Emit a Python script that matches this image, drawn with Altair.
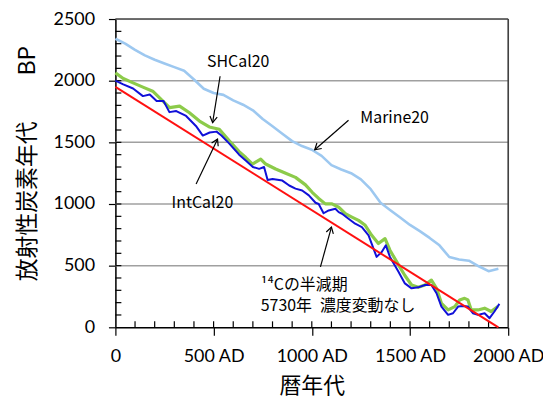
import math
import altair as alt
import pandas as pd

# ---- data ----
marine_year = [0, 50, 100, 150, 200, 250, 300, 350, 400, 450, 500, 550, 600, 650, 700, 750, 800, 850, 900, 950,
               1000, 1050, 1100, 1150, 1200, 1250, 1300, 1350, 1400, 1450, 1500, 1550, 1600, 1650, 1700, 1750,
               1800, 1850, 1900, 1950]
marine_bp = [2340, 2300, 2250, 2205, 2170, 2140, 2110, 2080, 2010, 1935, 1900, 1885, 1840, 1805, 1760, 1690,
             1630, 1570, 1510, 1470, 1440, 1390, 1315, 1280, 1250, 1200, 1120, 1010, 950, 890, 830, 780, 725,
             665, 570, 550, 540, 495, 455, 475]

intcal_year = [0, 40, 90, 140, 175, 210, 245, 275, 310, 360, 410, 445, 480, 515, 540, 580, 630, 665, 700, 732,
               757, 775, 800, 850, 885, 917, 951, 985, 1019, 1035, 1060, 1086, 1120, 1137, 1154, 1187, 1221,
               1255, 1289, 1330, 1356, 1377, 1398, 1440, 1474, 1508, 1542, 1576, 1609, 1635, 1660, 1694, 1719,
               1745, 1770, 1795, 1820, 1846, 1880, 1905, 1930, 1955]
intcal_bp = [2000, 1970, 1937, 1875, 1888, 1835, 1835, 1745, 1754, 1714, 1633, 1555, 1580, 1587, 1555, 1490,
             1400, 1351, 1300, 1285, 1300, 1195, 1203, 1190, 1150, 1125, 1109, 1070, 1010, 1000, 925, 948, 961,
             934, 921, 881, 840, 813, 746, 571, 611, 665, 571, 455, 356, 316, 324, 343, 343, 276, 168, 101, 114,
             168, 173, 168, 114, 101, 114, 74, 128, 190]

shcal_year = [0, 40, 90, 140, 190, 242, 276, 327, 377, 428, 478, 529, 580, 630, 664, 698, 740, 765, 816, 867,
              917, 968, 1002, 1035, 1069, 1103, 1137, 1171, 1204, 1238, 1272, 1305, 1339, 1373, 1398, 1440,
              1474, 1508, 1542, 1576, 1609, 1635, 1660, 1694, 1728, 1753, 1778, 1795, 1812, 1846, 1880, 1913,
              1947]
shcal_bp = [2063, 2018, 1982, 1948, 1915, 1835, 1781, 1794, 1740, 1673, 1625, 1606, 1512, 1425, 1377, 1324,
            1364, 1324, 1284, 1250, 1216, 1155, 1095, 1045, 1001, 1001, 974, 921, 894, 867, 827, 746, 679, 719,
            625, 510, 420, 343, 324, 343, 383, 316, 195, 141, 168, 222, 235, 222, 141, 141, 155, 128, 168]

decay_year = [0, 1950]
decay_bp = [1950, 0]

x_ticks = [0, 500, 1000, 1500, 2000]
y_ticks = [0, 500, 1000, 1500, 2000, 2500]
y_grid = [500, 1000, 1500, 2000]
x_minor = [100, 200, 300, 400, 500, 600, 700, 800, 900, 1000, 1100, 1200, 1300, 1400, 1500, 1600, 1700,
           1800, 1900]
y_minor = [100, 200, 300, 400, 500, 600, 700, 800, 900, 1000, 1100, 1200, 1300, 1400, 1500, 1600, 1700,
           1800, 1900, 2000, 2100, 2200, 2300, 2400]

# annotations (data units)
label_text = ["SHCal20", "IntCal20", "Marine20", "¹⁴Cの半減期", "5730年\u2002濃度変動なし"]
label_x = [625, 443, 1247, 740, 740]
label_y = [2149, 1006, 1700, 343, 173]
label_align = ["center", "center", "left", "left", "left"]

arrow_x0 = [533, 411, 1187, 1044]
arrow_y0 = [2036, 1163, 1679, 490]
arrow_x1 = [495, 520, 1015, 1100]
arrow_y1 = [1660, 1526, 1440, 813]

W, H = 395, 310
XMAX, YMAX = 2000, 2500
sx, sy = W / XMAX, H / YMAX
TICK_PX = 6

xs = alt.Scale(domain=[0, XMAX], nice=False, zero=False)
ys = alt.Scale(domain=[0, YMAX], nice=False, zero=False)

LABEL_FONT = "Lato"
JP_FONT = "Noto Sans CJK JP"

x_axis = alt.Axis(values=x_ticks, title="暦年代",
                  labelExpr="datum.value == 0 ? '0' : datum.value + ' AD'",
                  labelFont=LABEL_FONT, labelFontSize=18, labelColor="#000000",
                  labelPadding=12, tickSize=8, tickColor="#000000", tickWidth=1.2,
                  domainColor="#000000", domainWidth=1.5, grid=False,
                  titleFont=JP_FONT, titleFontSize=22, titleFontWeight="normal", titleColor="#000000",
                  titleBaseline="middle", titleAlign="center", titleX=W / 2, titleY=59,
                  labelFlush=False)
y_axis = alt.Axis(values=y_ticks, title="放射性炭素年代　　BP", format="d",
                  labelFont=LABEL_FONT, labelFontSize=18, labelColor="#000000",
                  labelPadding=14, tickSize=7, tickColor="#000000", tickWidth=1.2,
                  domainColor="#000000", domainWidth=1.5, grid=False,
                  titleFont=JP_FONT, titleFontSize=23, titleFontWeight="normal", titleColor="#000000",
                  titleAngle=270, titleBaseline="middle", titleAlign="center", titleX=-88, titleY=145)


def X(field):
    return alt.X(field, scale=xs, axis=x_axis)


def Y(field):
    return alt.Y(field, scale=ys, axis=y_axis)


def line_layer(xv, yv, color, width):
    return alt.Chart(pd.DataFrame({"year": xv, "bp": yv})).mark_line(
        color=color, strokeWidth=width, strokeJoin="round").encode(x=X("year:Q"), y=Y("bp:Q"))


def segment_layer(df, color, width):
    return alt.Chart(df).mark_rule(color=color, strokeWidth=width).encode(
        x=X("x0:Q"), y=Y("y0:Q"), x2="x1:Q", y2="y1:Q")


# horizontal grid lines
grid_df = pd.DataFrame({"x0": [0] * len(y_grid), "x1": [XMAX] * len(y_grid), "y0": y_grid, "y1": y_grid})
grid = segment_layer(grid_df, "#A0A0A0", 1.5)

# plot frame: top and right edges
frame_df = pd.DataFrame({"x0": [0, XMAX], "x1": [XMAX, XMAX], "y0": [YMAX, 0], "y1": [YMAX, YMAX]})
frame = segment_layer(frame_df, "#404040", 1.6)

# inner minor ticks (length TICK_PX pixels, converted through the scale factors)
tick_rows = []
for v in y_minor:
    tick_rows.append({"x0": 0.0, "x1": TICK_PX / sx, "y0": float(v), "y1": float(v)})
for v in x_minor:
    tick_rows.append({"x0": float(v), "x1": float(v), "y0": 0.0, "y1": TICK_PX / sy})
ticks = segment_layer(pd.DataFrame(tick_rows), "#000000", 1.2)

marine = line_layer(marine_year, marine_bp, "#9DC8F0", 2.6)
shcal = line_layer(shcal_year, shcal_bp, "#8CCB4A", 3.2)
intcal = line_layer(intcal_year, intcal_bp, "#1010D8", 2.0)
decay = line_layer(decay_year, decay_bp, "#FF1010", 2.0)

# annotation arrows
arrows_df = pd.DataFrame({"x0": arrow_x0, "y0": arrow_y0, "x1": arrow_x1, "y1": arrow_y1})
arrows_df["ang"] = [
    (math.degrees(math.atan2((b - a) * sx, (d - c) * sy)) + 360) % 360
    for a, b, c, d in zip(arrow_x0, arrow_x1, arrow_y0, arrow_y1)
]
shafts = segment_layer(arrows_df, "#000000", 1.2)
heads = alt.Chart(arrows_df).mark_point(
    shape="M-0.6,1L0,0L0.6,1", filled=False, color="#000000", strokeWidth=1.2, size=150, opacity=1
).encode(x=X("x1:Q"), y=Y("y1:Q"), angle=alt.Angle("ang:Q", scale=None))

labels_df = pd.DataFrame({"t": label_text, "x": label_x, "y": label_y, "al": label_align})
texts = []
for al in ["center", "left"]:
    texts.append(
        alt.Chart(labels_df).transform_filter(alt.datum.al == al).mark_text(
            align=al, baseline="middle", font=JP_FONT, fontSize=16, color="#000000"
        ).encode(x=X("x:Q"), y=Y("y:Q"), text="t:N")
    )

chart = alt.layer(grid, frame, ticks, marine, shcal, intcal, decay, shafts, heads, *texts).properties(
    width=W, height=H,
    padding={"left": 108, "top": 10, "right": 35, "bottom": 72},
    autosize=alt.AutoSizeParams(type="none"),
).configure_view(strokeWidth=0).configure(background="#FFFFFF")

chart.save("out.html", embed_options={"renderer": "svg", "actions": False})
